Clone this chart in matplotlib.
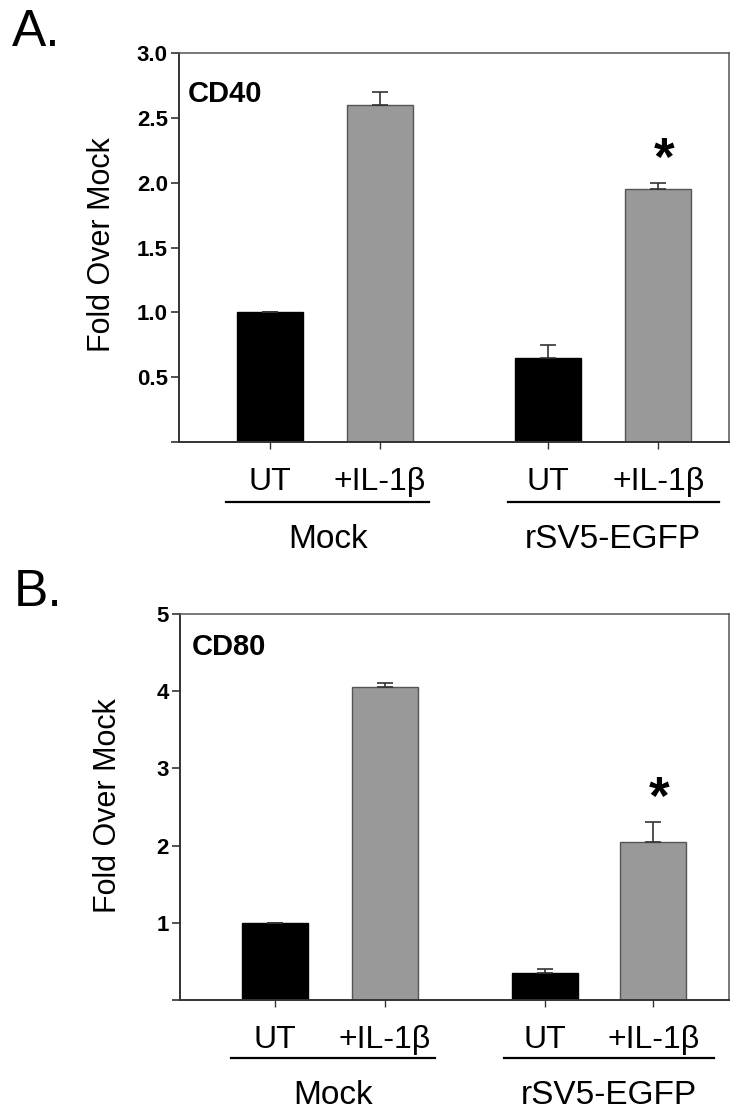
import matplotlib
matplotlib.use("Agg")
import matplotlib.pyplot as plt
import matplotlib.transforms as mtransforms

plt.rcParams["font.family"] = ["Liberation Sans", "DejaVu Sans"]

# data
conditions = ["UT", "+IL-1\u03b2", "UT", "+IL-1\u03b2"]
groups = ["Mock", "rSV5-EGFP"]

cd40_values = [1.0, 2.6, 0.65, 1.95]
cd40_errors = [0.0, 0.10, 0.10, 0.05]
cd40_star = 2.25

cd80_values = [1.0, 4.05, 0.35, 2.05]
cd80_errors = [0.0, 0.05, 0.05, 0.25]
cd80_star = 2.73

bar_colors = ["black", "#999999", "black", "#999999"]
edge_colors = ["black", "#555555", "black", "#555555"]


def draw_panel(fig, rect, values, errors, star_y, ymax, yticks, fmt,
               name, positions, xlim, name_pos, offsets):
  ax = fig.add_axes(rect)
  ax.bar(positions, values, width=0.6, color=bar_colors,
         edgecolor=edge_colors, linewidth=1.0, zorder=2)
  ax.errorbar(positions, values, yerr=[[0] * 4, errors], fmt="none",
              ecolor="#333333", elinewidth=1.2, capsize=6, capthick=1.2,
              zorder=3)
  # asterisk glyph sits high in its box, so nudge it down a little
  ax.annotate("*", (positions[3] + 0.05, star_y), xytext=(0, -11),
              textcoords="offset pixels", fontsize=38, fontweight="bold",
              ha="center", va="center")

  ax.set_xlim(*xlim)
  ax.set_ylim(0, ymax)
  ax.set_xticks(positions)
  ax.set_xticklabels([])
  ax.set_yticks([0] + yticks)
  ax.set_yticklabels([""] + [fmt % t for t in yticks],
                     fontsize=16, fontweight="bold")
  ax.tick_params(axis="y", direction="out", length=6, width=1.2, pad=2,
                 color="#333333")
  ax.tick_params(axis="x", direction="out", length=5, width=1.0,
                 color="#333333")
  for side in ["left", "bottom"]:
    ax.spines[side].set_linewidth(1.4)
    ax.spines[side].set_color("#333333")
  for side in ["top", "right"]:
    ax.spines[side].set_linewidth(1.1)
    ax.spines[side].set_color("#555555")

  ax.text(name_pos[0], name_pos[1], name, transform=ax.transAxes,
          fontsize=21, fontweight="bold", ha="left", va="top")

  # condition labels, group lines and group names under the axis
  trans = mtransforms.blended_transform_factory(ax.transData, ax.transAxes)
  h = rect[3] * fig.get_figheight() * fig.dpi
  lab_y = -offsets[0] / h
  line_y = -offsets[1] / h
  grp_y = -offsets[2] / h
  for x, lab in zip(positions, conditions):
    ax.text(x, lab_y, lab, transform=trans, fontsize=23,
            ha="center", va="center")
  spans = [(positions[0] - 0.4, positions[1] + 0.45),
           (positions[2] - 0.37, positions[3] + 0.55)]
  for (x0, x1), g in zip(spans, groups):
    ax.plot([x0, x1], [line_y, line_y], transform=trans, color="black",
            linewidth=1.6, clip_on=False)
    ax.text((x0 + x1) / 2, grp_y, g, transform=trans, fontsize=24,
            ha="center", va="center")
  return ax


fig = plt.figure(figsize=(7.42, 11.18), dpi=100)

draw_panel(fig, [179 / 742, 1 - 442 / 1118, 550 / 742, 389 / 1118],
           cd40_values, cd40_errors, cd40_star, 3.0,
           [0.5, 1.0, 1.5, 2.0, 2.5, 3.0], "%.1f", "CD40",
           [0, 1, 2.53, 3.53], (-0.827, 4.173), (0.016, 0.93),
           (40, 60, 98))

draw_panel(fig, [180 / 742, 1 - 1000 / 1118, 549 / 742, 386 / 1118],
           cd80_values, cd80_errors, cd80_star, 5,
           [1, 2, 3, 4, 5], "%d", "CD80",
           [0, 1, 2.45, 3.44], (-0.864, 4.127), (0.022, 0.95),
           (40, 58, 95))

fig.text(102 / 742, 1 - 245 / 1118, "Fold Over Mock", rotation=90,
         fontsize=22, ha="center", va="center")
fig.text(108 / 742, 1 - 806 / 1118, "Fold Over Mock", rotation=90,
         fontsize=22, ha="center", va="center")

fig.text(12 / 742, 1 - 8 / 1118, "A.", fontsize=37, ha="left", va="top")
fig.text(14 / 742, 1 - 568 / 1118, "B.", fontsize=37, ha="left", va="top")

fig.savefig("out.png", dpi=100)
